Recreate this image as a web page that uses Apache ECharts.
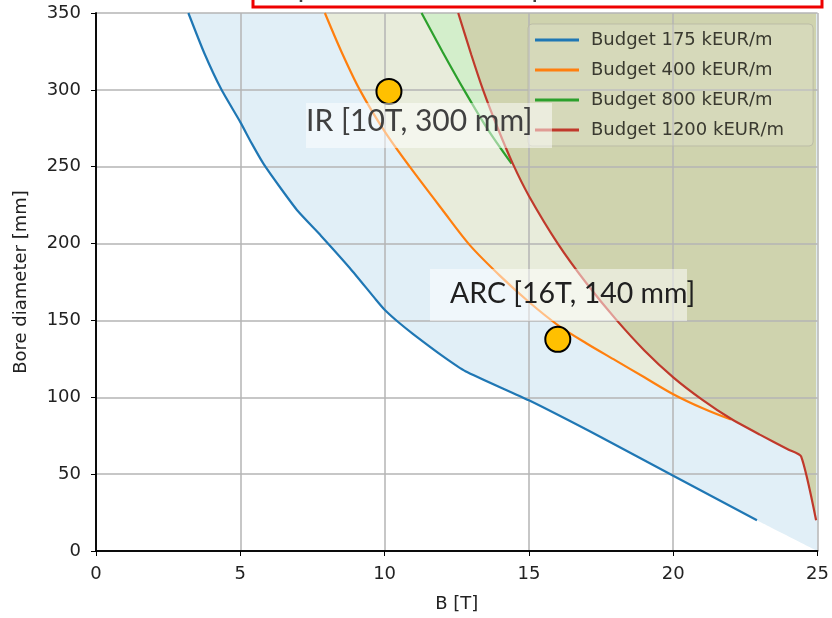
<!DOCTYPE html>
<html>
<head>
<meta charset="utf-8">
<script src="https://cdn.jsdelivr.net/npm/echarts@6/dist/echarts.min.js"></script>
<style>html,body{margin:0;padding:0;background:#fff}#c{width:832px;height:618px}</style>
</head>
<body>
<div id="c"></div>
<script>
// ---- data ----
const seriesNames = ['Budget 175 kEUR/m', 'Budget 400 kEUR/m', 'Budget 800 kEUR/m', 'Budget 1200 kEUR/m'];
const B175 = [3.2, 3.75, 4.35, 5.0, 5.4, 5.8, 6.4, 7.0, 7.8, 8.8, 9.7, 10.0, 10.5, 11.0, 12.0, 12.8, 15.0, 17.5, 20.0, 22.9];
const D175 = [350, 324, 300, 279, 265, 252, 236, 221, 205, 184, 163.5, 157, 148.5, 141, 127, 117, 98, 74, 49, 20];
const B400 = [7.93, 8.5, 9.14, 10.0, 10.87, 12.0, 12.95, 14.0, 15.0, 16.0, 17.0, 18.0, 19.0, 20.0, 21.0, 22.0];
const D400 = [350, 325, 300, 273, 250, 222, 199, 179, 162, 147, 135, 124, 113, 102, 93, 85.5];
const B800 = [11.28, 12.0, 12.75, 13.55, 14.4];
const D800 = [350, 325, 300, 275, 252];
const B1200 = [12.55, 13.0, 13.41, 13.9, 14.44, 15.0, 16.0, 17.0, 18.0, 19.0, 20.0, 21.0, 22.0, 23.0, 24.0, 24.43, 24.95];
const D1200 = [350, 323, 300, 276, 252, 231, 200, 174, 151, 130.5, 113, 98.5, 86, 75.7, 65.9, 61.5, 20];
const fill175Extra = [[25, 0]];
const points = [[10.15, 299], [16.0, 137.7]];
const pointLabels = ['IR [10T, 300 mm]', 'ARC [16T, 140 mm]'];
// NOTE: the boxed title is cut off at the top edge of the reference image; only the
// bottoms of its glyphs are visible. This wording is a GUESS, not read from the source.
const titleText = 'Dipole – Nb3Sn @ Top = 4.5 K';
const xTicks = {min: 0, max: 25, interval: 5};
const yTicks = {min: 0, max: 350, interval: 50};

const zip = (a, b) => a.map((v, i) => [v, b[i]]);
const lineColors = ['#1f77b4', '#ff7f0e', '#2ca02c', '#c0392b'];
const fillColors = ['#e1eff7', '#e8ecdb', '#d3eecb', '#cfd3ae'];
const smoothVals = [0.2, 0.3, 0.3, 0.2];

const d175 = zip(B175, D175);
const d400 = zip(B400, D400);
const d800 = zip(B800, D800);
const d1200 = zip(B1200, D1200);
const fillData = [
  d175.concat(fill175Extra),
  d400.concat(d1200.filter(p => p[0] > 22.0)),
  d800,
  d1200
];
const lineData = [d175, d400, d800, d1200];

const series = [];
fillData.forEach((d, i) => {
  series.push({
    type: 'line', data: d, showSymbol: false, silent: true, z: 1,
    smooth: smoothVals[i],
    lineStyle: {width: 0, opacity: 0},
    areaStyle: {origin: 'end', color: fillColors[i], opacity: 1}
  });
});
lineData.forEach((d, i) => {
  series.push({
    name: seriesNames[i], type: 'line', data: d, showSymbol: false, z: 3,
    smooth: smoothVals[i],
    color: lineColors[i],
    lineStyle: {width: 2.2, color: lineColors[i]}
  });
});
series.push({
  type: 'scatter', data: points, symbolSize: 25, z: 12,
  itemStyle: {color: '#FFC000', borderColor: '#000', borderWidth: 2, opacity: 1}
});

const chart = echarts.init(document.getElementById('c'));
const axisFont = {fontFamily: 'DejaVu Sans', fontSize: 18, color: '#222'};
chart.setOption({
  animation: false,
  backgroundColor: '#fff',
  grid: {left: 96, right: 14, top: 13, bottom: 66},
  xAxis: [{
    type: 'value', min: xTicks.min, max: xTicks.max, interval: xTicks.interval, z: 2,
    name: 'B [T]', nameLocation: 'middle', nameGap: 44,
    nameTextStyle: axisFont,
    axisLine: {show: true, onZero: false, lineStyle: {color: '#000', width: 1.5}},
    axisTick: {show: true, length: 5, lineStyle: {color: '#000'}},
    axisLabel: Object.assign({margin: 14}, axisFont),
    splitLine: {show: true, lineStyle: {color: '#b4b4b4', width: 1.5}}
  }, {
    type: 'value', position: 'top', min: xTicks.min, max: xTicks.max, z: 3,
    axisLine: {show: true, lineStyle: {color: '#000', width: 1.5}},
    axisTick: {show: false}, axisLabel: {show: false}, splitLine: {show: false}
  }],
  yAxis: [{
    type: 'value', min: yTicks.min, max: yTicks.max, interval: yTicks.interval, z: 2,
    name: 'Bore diameter [mm]', nameLocation: 'middle', nameGap: 66,
    nameTextStyle: axisFont,
    axisLine: {show: true, onZero: false, lineStyle: {color: '#000', width: 1.5}},
    axisTick: {show: true, length: 5, lineStyle: {color: '#000'}},
    axisLabel: Object.assign({margin: 15}, axisFont),
    splitLine: {show: true, lineStyle: {color: '#b4b4b4', width: 1.5}}
  }, {
    type: 'value', position: 'right', min: yTicks.min, max: yTicks.max, z: 3,
    axisLine: {show: true, lineStyle: {color: '#000', width: 1.5}},
    axisTick: {show: false}, axisLabel: {show: false}, splitLine: {show: false}
  }],
  legend: {
    data: seriesNames, orient: 'vertical', left: 528, top: 24,
    icon: 'rect', itemWidth: 44, itemHeight: 3, itemGap: 10,
    textStyle: {fontFamily: 'DejaVu Sans', fontSize: 18, color: '#3a3a30', lineHeight: 20, padding: [0, 0, 0, 7]},
    backgroundColor: 'rgba(255,255,255,0.15)',
    borderColor: 'rgba(185,185,165,0.9)', borderWidth: 1, borderRadius: 4,
    padding: [6, 29, 6, 7]
  },
  graphic: [
    {type: 'rect', z: 100, shape: {x: 253, y: -40, width: 569, height: 47},
     style: {fill: '#fff', stroke: '#ee0000', lineWidth: 3}},
    {type: 'text', z: 101, x: 270, y: 2,
     style: {text: titleText, font: '28px Lato', fill: '#404040', verticalAlign: 'bottom'}},
    {type: 'rect', z: 100, shape: {x: 306, y: 103, width: 246, height: 45},
     style: {fill: 'rgba(255,255,255,0.5)'}},
    {type: 'text', z: 101, x: 306, y: 121,
     style: {text: pointLabels[0], font: '30px Lato', fill: '#404040', verticalAlign: 'middle'}},
    {type: 'rect', z: 100, shape: {x: 430, y: 269, width: 257, height: 52},
     style: {fill: 'rgba(255,255,255,0.5)'}},
    {type: 'text', z: 101, x: 450, y: 294,
     style: {text: pointLabels[1], font: '28.5px Lato', fill: '#202020', verticalAlign: 'middle'}}
  ],
  series: series
});
</script>
</body>
</html>
